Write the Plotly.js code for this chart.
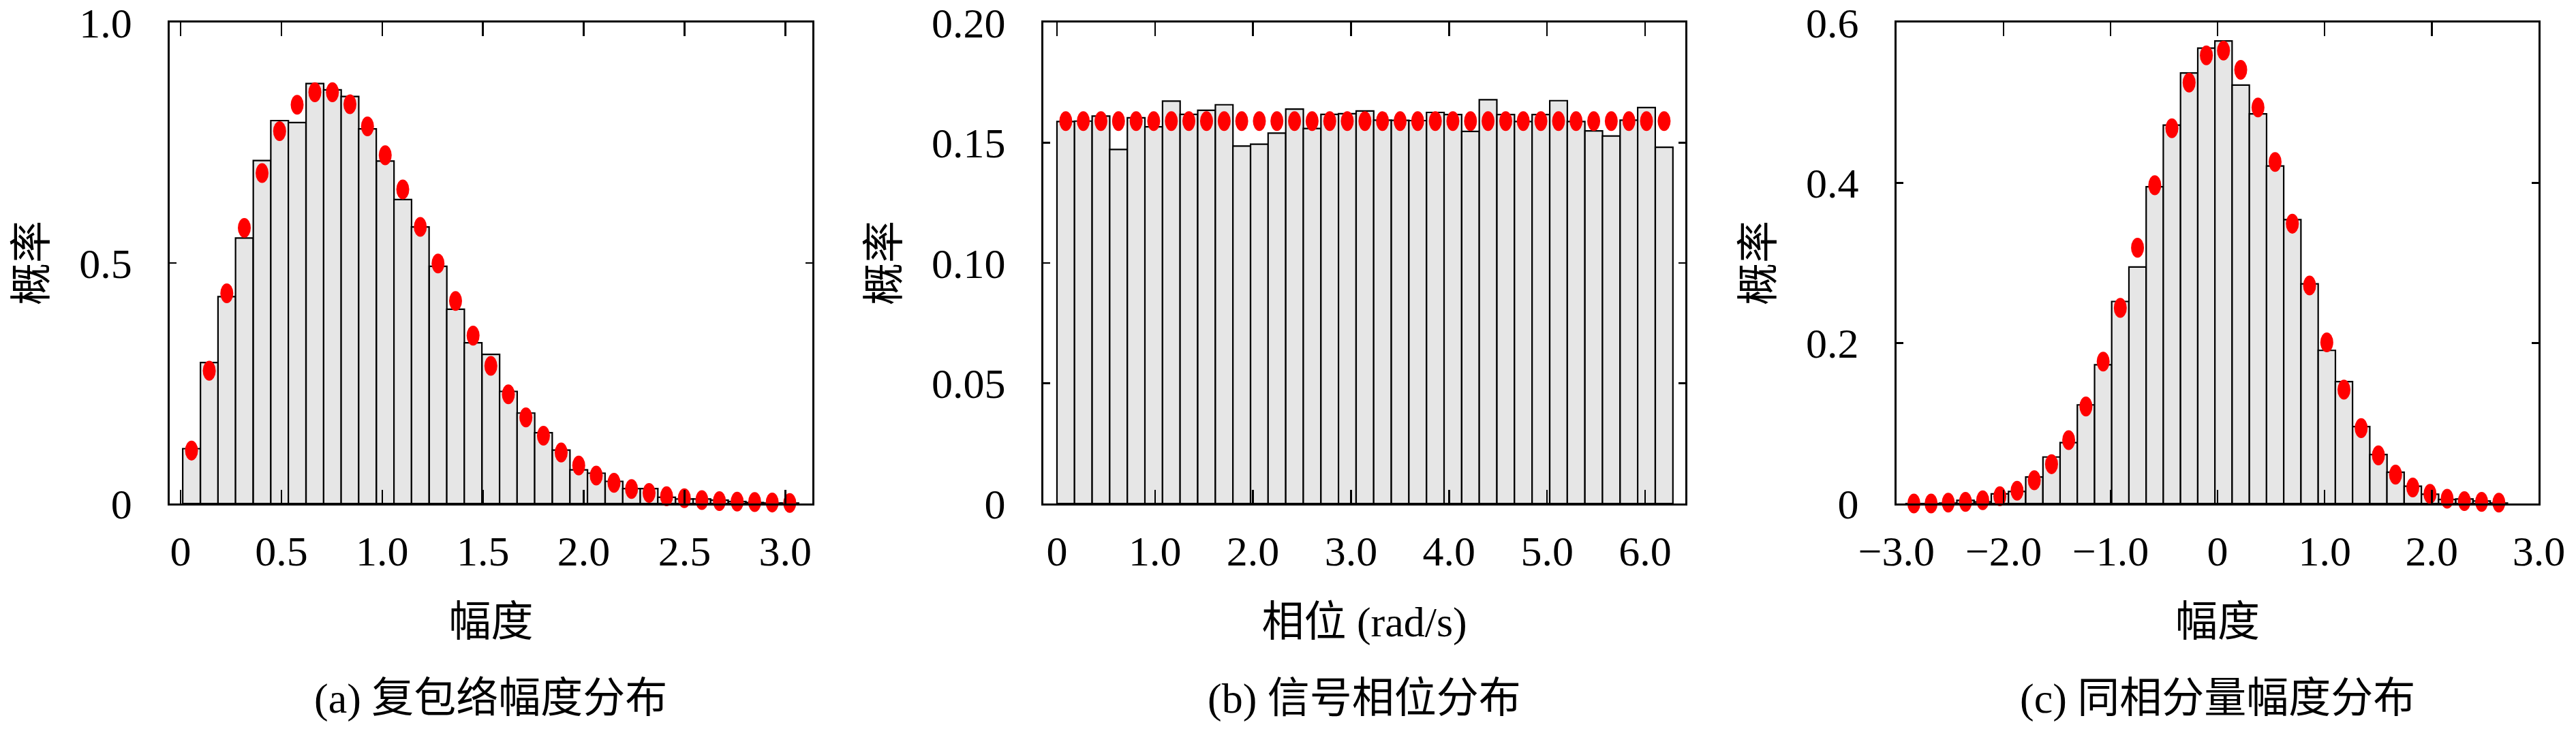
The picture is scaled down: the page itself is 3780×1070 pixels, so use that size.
<!DOCTYPE html>
<html><head><meta charset="utf-8">
<script src="https://cdn.plot.ly/plotly-3.0.1.min.js"></script>
<style>html,body{margin:0;padding:0;background:#fff}#chart{width:3780px;height:1070px}</style>
</head><body><div id="chart"></div>
<script>
// (a) complex-envelope amplitude
const ampCenters = [0.054,0.142,0.229,0.316,0.404,0.491,0.578,0.666,0.753,0.840,0.927,1.015,1.102,1.189,1.277,1.364,1.451,1.539,1.626,1.713,1.800,1.888,1.975,2.062,2.150,2.237,2.324,2.411,2.499,2.586,2.673,2.761,2.848,2.935,3.022];
const ampHist = [0.114,0.293,0.430,0.552,0.713,0.796,0.792,0.873,0.860,0.846,0.779,0.712,0.632,0.575,0.493,0.404,0.334,0.310,0.233,0.188,0.147,0.111,0.070,0.063,0.046,0.031,0.031,0.013,0.0095,0.0095,0.007,0.004,0.002,0.001,0.001];
const ampPdf = [0.110,0.276,0.437,0.573,0.687,0.774,0.829,0.855,0.855,0.830,0.784,0.724,0.653,0.575,0.499,0.421,0.349,0.286,0.227,0.179,0.141,0.106,0.079,0.058,0.043,0.030,0.022,0.015,0.011,0.007,0.005,0.004,0.003,0.002,0.001];
// (b) signal phase
const phaseCenters = [0.090,0.269,0.449,0.628,0.808,0.987,1.167,1.346,1.526,1.706,1.885,2.065,2.244,2.424,2.603,2.783,2.962,3.142,3.321,3.501,3.680,3.860,4.039,4.219,4.398,4.578,4.757,4.937,5.117,5.296,5.476,5.655,5.835,6.014,6.194];
const phaseHist = [0.1588,0.1590,0.1611,0.1472,0.1604,0.1566,0.1673,0.1618,0.1635,0.1658,0.1486,0.1494,0.1540,0.1640,0.1559,0.1618,0.1621,0.1632,0.1594,0.1593,0.1592,0.1626,0.1617,0.1547,0.1679,0.1617,0.1588,0.1617,0.1675,0.1588,0.1549,0.1528,0.1594,0.1646,0.1481];
const phasePdf = [0.159,0.159,0.159,0.159,0.159,0.159,0.159,0.159,0.159,0.159,0.159,0.159,0.159,0.159,0.159,0.159,0.159,0.159,0.159,0.159,0.159,0.159,0.159,0.159,0.159,0.159,0.159,0.159,0.159,0.159,0.159,0.159,0.159,0.159,0.159];
// (c) in-phase component amplitude
const iqCenters = [-2.837,-2.676,-2.516,-2.355,-2.194,-2.034,-1.873,-1.712,-1.551,-1.391,-1.230,-1.069,-0.909,-0.748,-0.587,-0.427,-0.266,-0.105,0.055,0.216,0.377,0.537,0.698,0.859,1.020,1.180,1.341,1.502,1.662,1.823,1.984,2.144,2.305,2.466,2.627];
const iqHist = [0.000,0.000,0.0005,0.004,0.002,0.012,0.015,0.033,0.058,0.076,0.123,0.173,0.252,0.295,0.395,0.472,0.537,0.568,0.577,0.522,0.486,0.421,0.354,0.274,0.191,0.152,0.096,0.061,0.039,0.0215,0.0116,0.005,0.0057,0.003,0.0005];
const iqPdf = [0.000,0.000,0.001,0.002,0.004,0.009,0.016,0.029,0.049,0.079,0.121,0.177,0.244,0.319,0.397,0.468,0.525,0.559,0.565,0.541,0.494,0.426,0.349,0.272,0.201,0.142,0.094,0.060,0.036,0.020,0.012,0.006,0.003,0.002,0.001];

// tick labels
const ampXVals = [0,0.5,1,1.5,2,2.5,3];
const ampXText = ['0','0.5','1.0','1.5','2.0','2.5','3.0'];
const ampYVals = [0,0.5,1];
const ampYText = ['0','0.5','1.0'];
const phaseXVals = [0,1,2,3,4,5,6];
const phaseXText = ['0','1.0','2.0','3.0','4.0','5.0','6.0'];
const phaseYVals = [0,0.05,0.1,0.15,0.2];
const phaseYText = ['0','0.05','0.10','0.15','0.20'];
const iqXVals = [-3,-2,-1,0,1,2,3];
const iqXText = ['\u22123.0','\u22122.0','\u22121.0','0','1.0','2.0','3.0'];
const iqYVals = [0,0.2,0.4,0.6];
const iqYText = ['0','0.2','0.4','0.6'];

const xTitles = ['幅度','相位 (rad/s)','幅度'];
const yTitle = '概率';
const captions = ['(a) 复包络幅度分布','(b) 信号相位分布','(c) 同相分量幅度分布'];

const FONT = "'Liberation Serif', 'Noto Sans CJK SC', serif";
const FS = 62;
const barFill = '#e6e6e6';
const dotColor = '#ff0000';

const panels = [
  {c: ampCenters, h: ampHist, p: ampPdf, w: 0.0873, xr: [-0.054, 3.133], yr: [0, 1], xv: ampXVals, xt: ampXText, yv: ampYVals, yt: ampYText, dom: [249.1/3780, 1191.7/3780]},
  {c: phaseCenters, h: phaseHist, p: phasePdf, w: 0.1795, xr: [-0.14, 6.413], yr: [0, 0.2], xv: phaseXVals, xt: phaseXText, yv: phaseYVals, yt: phaseYText, dom: [1530.8/3780, 2473.4/3780]},
  {c: iqCenters, h: iqHist, p: iqPdf, w: 0.1607, xr: [-3, 3], yr: [0, 0.6], xv: iqXVals, xt: iqXText, yv: iqYVals, yt: iqYText, dom: [2782.8/3780, 3725.4/3780]}
];

const yDom = [1 - 739/1070, 1 - 33/1070];
const data = [];
const layout = {
  width: 3780, height: 1070,
  margin: {l: 0, r: 0, t: 0, b: 0},
  paper_bgcolor: '#fff', plot_bgcolor: '#fff',
  showlegend: false,
  bargap: 0,
  font: {family: FONT, size: FS, color: '#000'},
  annotations: []
};

panels.forEach((pn, i) => {
  const n = i === 0 ? '' : String(i + 1);
  const xa = 'x' + n, ya = 'y' + n;
  data.push({
    type: 'bar', x: pn.c, y: pn.h, width: pn.w, xaxis: xa, yaxis: ya,
    marker: {color: barFill, line: {color: '#000', width: 2.2}},
    hoverinfo: 'x+y'
  });
  data.push({
    type: 'scatter', mode: 'markers', x: pn.c, y: pn.p, xaxis: xa, yaxis: ya,
    cliponaxis: false,
    marker: {color: dotColor, size: 19, symbol: 'circle', line: {width: 0}}
  });
  const common = {
    showline: true, linecolor: '#000', linewidth: 3, mirror: 'ticks',
    ticks: 'inside', tickcolor: '#000', tickwidth: 2.5,
    showgrid: false, zeroline: false, tickmode: 'array',
    ticklabeloverflow: 'allow',
    tickfont: {family: FONT, size: FS, color: '#000'},
    fixedrange: true
  };
  layout['xaxis' + n] = Object.assign({}, common, {
    domain: pn.dom, range: pn.xr, anchor: ya, ticklen: 20,
    tickvals: pn.xv, ticktext: pn.xt, ticklabelstandoff: 14,
    title: {text: xTitles[i], font: {family: FONT, size: FS}, standoff: 49}
  });
  layout['yaxis' + n] = Object.assign({}, common, {
    domain: yDom, range: pn.yr, anchor: xa, ticklen: 10,
    tickvals: pn.yv, ticktext: pn.yt, ticklabelstandoff: 40,
    title: {text: yTitle, font: {family: FONT, size: FS}, standoff: 28}
  });
  layout.annotations.push({
    text: captions[i], xref: 'paper', yref: 'paper',
    x: (pn.dom[0] + pn.dom[1]) / 2, y: 1 - 1025/1070,
    xanchor: 'center', yanchor: 'middle', showarrow: false,
    font: {family: FONT, size: FS, color: '#000'}
  });
});

function stretchDots(gd) {
  gd.querySelectorAll('.scatterlayer path.point').forEach(p => {
    const t = p.getAttribute('transform') || '';
    if (t.indexOf('scale') < 0) p.setAttribute('transform', t + ' scale(1,1.53)');
  });
}

Plotly.newPlot('chart', data, layout, {staticPlot: true, displayModeBar: false}).then(gd => {
  stretchDots(gd);
  gd.on && gd.on('plotly_afterplot', () => stretchDots(gd));
});
</script>
</body></html>
